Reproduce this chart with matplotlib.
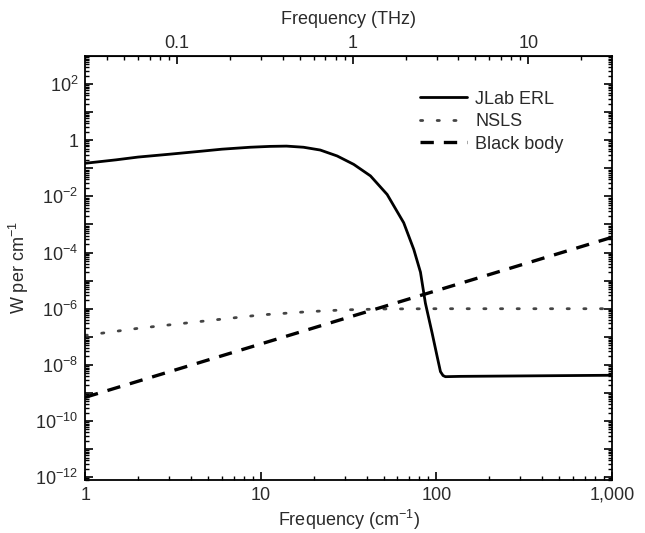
import numpy as np
import matplotlib
matplotlib.use("Agg")
import matplotlib.pyplot as plt
from matplotlib.ticker import LogLocator, FuncFormatter, FixedLocator, NullFormatter

plt.rcParams['font.family'] = ['Liberation Sans', 'DejaVu Sans']
plt.rcParams['mathtext.fontset'] = 'custom'
plt.rcParams['mathtext.rm'] = 'Liberation Sans'
plt.rcParams['mathtext.it'] = 'Liberation Sans:italic'
plt.rcParams['mathtext.bf'] = 'Liberation Sans:bold'

# ---- data (frequency in cm^-1, power in W per cm^-1) ----
jlab_x = [1, 1.5, 2, 3, 4.6, 6, 8.7, 11.3, 14, 17.5, 21.8, 27.2, 33.8, 42.1, 52.4, 65.1, 74.3,
          81.1, 86.5, 94.5, 100.9, 105.4, 109, 112.5, 137, 1000]
jlab_y = [0.151, 0.20, 0.251, 0.316, 0.407, 0.479, 0.562, 0.603, 0.617, 0.562, 0.447, 0.275,
          0.138, 0.0537, 0.0117, 1.15e-3, 1.29e-4, 2.0e-5, 1.58e-6, 1.35e-7, 2.0e-8, 5.75e-9,
          4.17e-9, 3.8e-9, 3.9e-9, 4.27e-9]

nsls_x = [1, 2, 4.5, 10, 19, 30, 50, 100, 1000]
nsls_y = [1.12e-7, 2.0e-7, 3.5e-7, 6.0e-7, 7.9e-7, 9.1e-7, 9.8e-7, 1.0e-6, 1.0e-6]

bb_x = [1, 1000]
bb_y = [7.0e-10, 3.5e-4]

xticks_cm = [1, 10, 100, 1000]
xticklabels_cm = ["1", "10", "100", "1,000"]
xticks_thz = [0.1, 1, 10]
xticklabels_thz = ["0.1", "1", "10"]
yticks_major = [1e-12, 1e-11, 1e-10, 1e-9, 1e-8, 1e-7, 1e-6, 1e-5, 1e-4, 1e-3, 1e-2, 1e-1, 1, 10, 100]
CM_PER_THZ = 33.356

FS = 13
TXT = '#2a2a2a'

fig = plt.figure(figsize=(6.45, 5.33), dpi=100)
ax = fig.add_axes([0.132, 0.0994, 0.817, 0.7956])

ax.plot(jlab_x, jlab_y, color='black', lw=2.0, ls='-', label='JLab ERL',
        solid_joinstyle='round', solid_capstyle='round')
ax.plot(nsls_x, nsls_y, color='#444444', lw=2.0, ls=(0, (0.8, 5.2)), dash_capstyle='round', label='NSLS')
ax.plot(bb_x, bb_y, color='black', lw=2.4, ls=(0, (4, 3)), label='Black body')

ax.set_xscale('log')
ax.set_yscale('log')
ax.set_xlim(1, 1000)
ax.set_ylim(10**-12.1, 10**3.0)

ax.set_xticks(xticks_cm)
ax.set_xticklabels(xticklabels_cm)
ax.xaxis.set_minor_locator(LogLocator(base=10, subs=np.arange(2, 10), numticks=20))
ax.xaxis.set_minor_formatter(NullFormatter())

ax.yaxis.set_major_locator(FixedLocator(yticks_major))
ax.yaxis.set_minor_locator(LogLocator(base=10, subs=np.arange(2, 10), numticks=40))
ax.yaxis.set_minor_formatter(NullFormatter())

def yfmt(v, pos):
    e = int(round(np.log10(v)))
    if e % 2 != 0:
        return ""
    if e == 0:
        return "1"
    return r"$\mathregular{10^{%d}}$" % e
ax.yaxis.set_major_formatter(FuncFormatter(yfmt))

ax.tick_params(axis='both', which='major', direction='in', length=6, width=1.2,
               labelsize=FS, labelcolor=TXT, pad=5)
ax.tick_params(axis='both', which='minor', direction='in', length=3, width=1.0)
ax.tick_params(axis='y', which='both', right=True)
ax.tick_params(axis='x', which='both', top=False)

for s in ax.spines.values():
    s.set_linewidth(1.3)

sec = ax.secondary_xaxis('top', functions=(lambda x: x / CM_PER_THZ, lambda f: f * CM_PER_THZ))
sec.set_xticks(xticks_thz)
sec.set_xticklabels(xticklabels_thz)
sec.xaxis.set_minor_locator(LogLocator(base=10, subs=np.arange(2, 10), numticks=20))
sec.xaxis.set_minor_formatter(NullFormatter())
sec.tick_params(which='major', direction='in', length=6, width=1.2, labelsize=FS, labelcolor=TXT, pad=3)
sec.tick_params(which='minor', direction='in', length=3, width=1.0)
sec.set_xlabel('Frequency (THz)', fontsize=FS, color=TXT, labelpad=8)

ax.set_xlabel(r'Frequency (cm$\mathregular{^{-1}}$)', fontsize=FS, color=TXT, labelpad=3)
ax.set_ylabel(r'W per cm$\mathregular{^{-1}}$', fontsize=FS, color=TXT, labelpad=3)

leg = ax.legend(loc='upper left', bbox_to_anchor=(0.636, 0.918), frameon=False,
                fontsize=FS, handlelength=2.6, handletextpad=0.45, labelspacing=0.3,
                borderaxespad=0.0, borderpad=0.0)
for t in leg.get_texts():
    t.set_color(TXT)

fig.savefig('out.png', dpi=100)
